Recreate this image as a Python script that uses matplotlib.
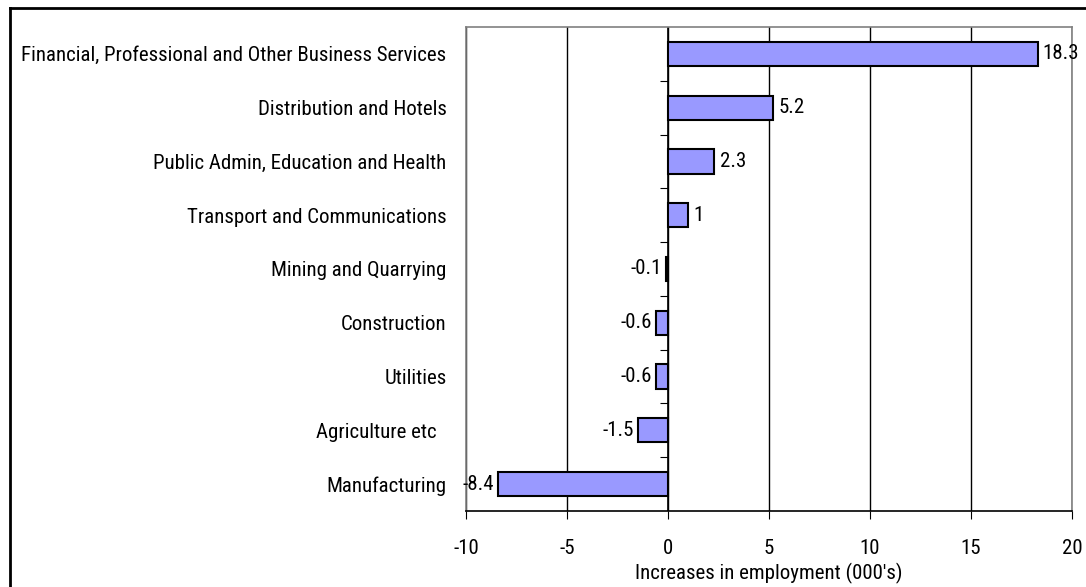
import matplotlib.pyplot as plt
from matplotlib.lines import Line2D

# employment change by sector, top to bottom
sectors = ["Financial, Professional and Other Business Services",
           "Distribution and Hotels",
           "Public Admin, Education and Health",
           "Transport and Communications",
           "Mining and Quarrying",
           "Construction",
           "Utilities",
           "Agriculture etc  ",
           "Manufacturing"]
changes = [18.3, 5.2, 2.3, 1, -0.1, -0.6, -0.6, -1.5, -8.4]
value_labels = ["18.3", "5.2", "2.3", "1", "-0.1", "-0.6", "-0.6", "-1.5", "-8.4"]
xticks = [-10, -5, 0, 5, 10, 15, 20]

plt.rcParams['font.family'] = ['Roboto Condensed', 'Liberation Sans', 'DejaVu Sans']
fs = 15

fig = plt.figure(figsize=(10.86, 5.87), dpi=100)
ax = fig.add_axes([466/1086, 1 - 511/587, (1072 - 466)/1086, (511 - 27)/587])

n = len(sectors)
ypos = list(range(n))[::-1]
ax.barh(ypos, changes, height=0.45, color='#9999FF', edgecolor='black', linewidth=1.5, zorder=3)

for y, v, lab in zip(ypos, changes, value_labels):
    if v >= 0:
        ax.text(v + 0.25, y, lab, ha='left', va='center', fontsize=fs, zorder=4)
    else:
        ax.text(v - 0.2, y, lab, ha='right', va='center', fontsize=fs, zorder=4)

ax.set_xlim(-10, 20)
ax.set_ylim(-0.5, n - 0.5)
ax.set_xticks(xticks)
ax.set_xticklabels([str(t) for t in xticks], fontsize=fs)
ax.xaxis.grid(True, color='black', linewidth=1, zorder=0)
ax.tick_params(axis='x', direction='out', length=6, pad=14)
ax.set_xlabel("Increases in employment (000's)", fontsize=fs, labelpad=4)

ax.set_yticks(ypos)
ax.set_yticklabels(sectors, fontsize=fs)
ax.tick_params(axis='y', length=0, pad=14)

for side in ['left', 'top', 'right']:
    ax.spines[side].set_color('#808080')
    ax.spines[side].set_linewidth(1.2)
ax.spines['bottom'].set_linewidth(1.2)

# zero line carries the category separators
ax.axvline(0, color='black', linewidth=1.2, zorder=2)
sec = ax.secondary_yaxis(1/3)
sec.set_yticks([i + 0.5 for i in range(n - 1)])
sec.set_yticklabels([])
sec.tick_params(axis='y', direction='out', length=6)
sec.spines['left'].set_visible(False)

# outer chart frame
fig.add_artist(Line2D([10/1086, 10/1086], [0, 1 - 8/587], color='black', linewidth=2, transform=fig.transFigure))
fig.add_artist(Line2D([10/1086, 1], [1 - 8/587, 1 - 8/587], color='black', linewidth=2, transform=fig.transFigure))

fig.savefig('out.png', dpi=100)
